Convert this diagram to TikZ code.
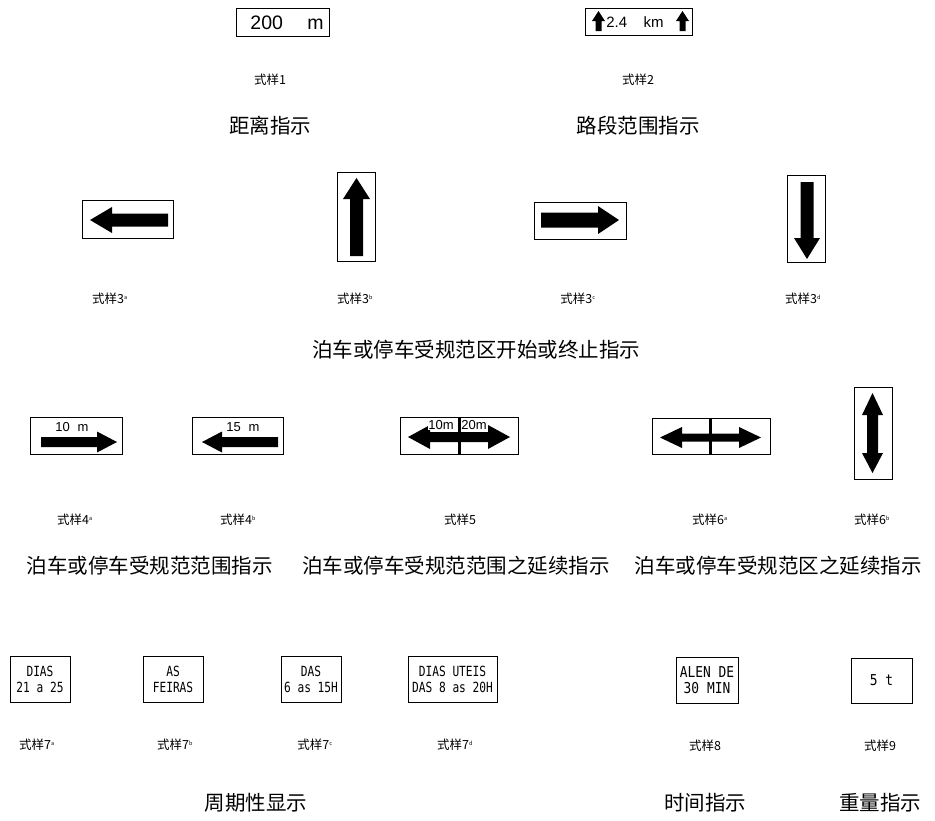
\documentclass[tikz,border=0pt]{standalone}
\usepackage{fontspec}
\setmainfont{Liberation Sans}
\newfontfamily\cjk{Noto Sans CJK SC}
\newfontfamily\narrowmono[FakeStretch=0.8]{DejaVu Sans Mono}
\newfontfamily\widermono[FakeStretch=0.86]{DejaVu Sans Mono}
\newcommand\ArrV[6]{\fill (#1-#5,#3) -- (#1,#2) -- (#1+#5,#3) -- (#1+#6,#3) -- (#1+#6,#4) -- (#1-#6,#4) -- (#1-#6,#3) -- cycle;}
\newcommand\ArrH[6]{\fill (#3,#1-#5) -- (#2,#1) -- (#3,#1+#5) -- (#3,#1+#6) -- (#4,#1+#6) -- (#4,#1-#6) -- (#3,#1-#6) -- cycle;}
\newcommand\DArrH[7]{\fill (#2,#1) -- (#3,#1-#6) -- (#3,#1-#7) -- (#4,#1-#7) -- (#4,#1-#6) -- (#5,#1) -- (#4,#1+#6) -- (#4,#1+#7) -- (#3,#1+#7) -- (#3,#1+#6) -- cycle;}
\newcommand\DArrV[7]{\fill (#1,#2) -- (#1-#6,#3) -- (#1-#7,#3) -- (#1-#7,#4) -- (#1-#6,#4) -- (#1,#5) -- (#1+#6,#4) -- (#1+#7,#4) -- (#1+#7,#3) -- (#1+#6,#3) -- cycle;}
\newcommand\sx[1]{\textsuperscript{\fontsize{5.5}{5.5}\selectfont #1}}
\begin{document}
\begin{tikzpicture}[x=1pt,y=-1pt,
  signbox/.style={draw, line width=0.8pt, inner sep=0pt, align=center},
  lbl/.style={font=\cjk\fontsize{12.5}{14}\selectfont},
  captxt/.style={font=\cjk\fontsize{20.5}{22}\selectfont},
  dtext/.style={font=\narrowmono\fontsize{14}{16}\selectfont, align=center}]
\useasboundingbox (0,0) rectangle (935,820);

% Row 1
\node[signbox, minimum width=93pt, minimum height=28pt] (s1) at (282.5,22) {};
\node[font=\fontsize{19.5}{19.5}\selectfont, inner sep=0pt] (s1t) at (287,22.5) {200\hspace{1.25em}m};
\node[signbox, minimum width=107pt, minimum height=27pt] (s2) at (638.5,21.5) {};
\node[font=\fontsize{15}{15}\selectfont, inner sep=0pt] (s2t) at (635,22.5) {2.4\hspace{1.1em}km};
\ArrV{598.5}{11}{21}{31}{6.5}{3}
\ArrV{682.5}{11}{21}{31}{6.5}{3}
\node[lbl] (l1) at (270,80) {式样1};
\node[lbl] (l2) at (638,80) {式样2};
\node[captxt] (c1) at (270,126) {距离指示};
\node[captxt] (c2) at (638,126) {路段范围指示};

% Row 2
\node[signbox, minimum width=91pt, minimum height=38pt] (s3a) at (127.5,219) {};
\ArrH{220}{90}{112}{168}{13}{6.5}
\node[signbox, minimum width=38pt, minimum height=89pt] (s3b) at (356,216.5) {};
\ArrV{356.5}{178}{199}{256}{13.5}{6.5}
\node[signbox, minimum width=92pt, minimum height=37pt] (s3c) at (580,220.5) {};
\ArrH{220}{619}{598}{541}{14}{7.5}
\node[signbox, minimum width=38pt, minimum height=87pt] (s3d) at (806,218.5) {};
\ArrV{807}{259}{238}{182}{13}{6.5}
\node[lbl] (l3a) at (110,299) {式样3\sx{a}};
\node[lbl] (l3b) at (355,299) {式样3\sx{b}};
\node[lbl] (l3c) at (578,299) {式样3\sx{c}};
\node[lbl] (l3d) at (803,299) {式样3\sx{d}};
\node[captxt] (c3) at (476,350) {泊车或停车受规范区开始或终止指示};

% Row 3
\node[signbox, minimum width=92pt, minimum height=37pt] (s4a) at (76,435.5) {};
\node[font=\fontsize{13}{13}\selectfont, inner sep=0pt] (t4a) at (72,427) {10\hspace{0.6em}m};
\ArrH{442}{117}{97}{41}{10.5}{5}
\node[signbox, minimum width=91pt, minimum height=37pt] (s4b) at (237.5,435.5) {};
\node[font=\fontsize{13}{13}\selectfont, inner sep=0pt] (t4b) at (243,427) {15\hspace{0.6em}m};
\ArrH{442}{202}{222}{278}{10.5}{5}
\node[signbox, minimum width=118pt, minimum height=37pt] (s5) at (459,435.5) {};
\DArrH{437}{408}{430}{488}{510}{12}{5}
\fill (457.5,417) rectangle (460.5,454);
\node[font=\fontsize{13}{13}\selectfont, inner sep=0.5pt, fill=white] (t5a) at (441,425) {10m};
\node[font=\fontsize{13}{13}\selectfont, inner sep=0.5pt, fill=white] (t5b) at (474,425) {20m};
\node[signbox, minimum width=118pt, minimum height=36pt] (s6a) at (711,436) {};
\DArrH{437.5}{660}{682}{739}{761}{10.5}{4}
\fill (708.5,418) rectangle (711.5,454);
\node[signbox, minimum width=38pt, minimum height=92pt] (s6b) at (873,433) {};
\DArrV{872.5}{393}{415}{453}{473}{10.5}{5.5}
\node[lbl] (l4a) at (75,520) {式样4\sx{a}};
\node[lbl] (l4b) at (238,520) {式样4\sx{b}};
\node[lbl] (l5) at (460,520) {式样5};
\node[lbl] (l6a) at (710,520) {式样6\sx{a}};
\node[lbl] (l6b) at (872,520) {式样6\sx{b}};
\node[captxt] (c4) at (150,566) {泊车或停车受规范范围指示};
\node[captxt] (c5) at (456,566) {泊车或停车受规范范围之延续指示};
\node[captxt] (c6) at (778,566) {泊车或停车受规范区之延续指示};

% Row 4
\node[signbox, minimum width=60pt, minimum height=46pt, dtext] (s7a) at (40,679) {DIAS\\21 a 25};
\node[signbox, minimum width=60pt, minimum height=46pt, dtext] (s7b) at (173,679) {AS\\FEIRAS};
\node[signbox, minimum width=60pt, minimum height=46pt, dtext] (s7c) at (311,679) {DAS\\6 as 15H};
\node[signbox, minimum width=89pt, minimum height=46pt, dtext] (s7d) at (452.5,679) {DIAS UTEIS\\DAS 8 as 20H};
\node[signbox, minimum width=62pt, minimum height=46pt, dtext, font=\widermono\fontsize{15}{16.5}\selectfont] (s8) at (707,680) {ALEN DE\\30 MIN};
\node[signbox, minimum width=61pt, minimum height=45pt, dtext, font=\widermono\fontsize{15}{16}\selectfont] (s9) at (881.5,680.5) {5\hspace{0.5em}t};
\node[lbl] (l7a) at (37,745) {式样7\sx{a}};
\node[lbl] (l7b) at (175,745) {式样7\sx{b}};
\node[lbl] (l7c) at (315,745) {式样7\sx{c}};
\node[lbl] (l7d) at (455,745) {式样7\sx{d}};
\node[lbl] (l8) at (705,746) {式样8};
\node[lbl] (l9) at (880,746) {式样9};
\node[captxt] (c7) at (256,803) {周期性显示};
\node[captxt] (c8) at (705,803) {时间指示};
\node[captxt] (c9) at (880,803) {重量指示};
\end{tikzpicture}
\end{document}
